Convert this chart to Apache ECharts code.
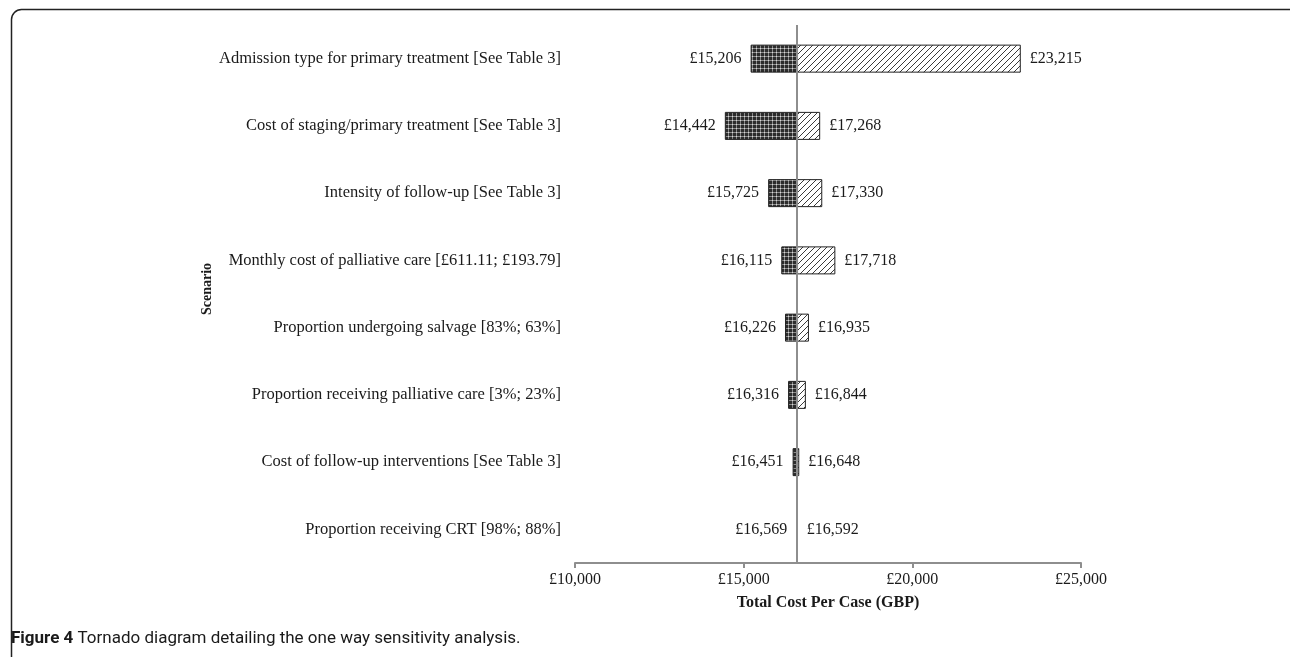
<!DOCTYPE html>
<html>
<head>
<meta charset="utf-8">
<script src="https://cdn.jsdelivr.net/npm/echarts@6/dist/echarts.min.js"></script>
<style>
html,body{margin:0;padding:0;background:#fff;}
#chart{width:1290px;height:657px;}
</style>
</head>
<body>
<div id="chart"></div>
<script>
const categories = [
  'Admission type for primary treatment [See Table 3]',
  'Cost of staging/primary treatment [See Table 3]',
  'Intensity of follow-up [See Table 3]',
  'Monthly cost of palliative care [£611.11; £193.79]',
  'Proportion undergoing salvage [83%; 63%]',
  'Proportion receiving palliative care [3%; 23%]',
  'Cost of follow-up interventions [See Table 3]',
  'Proportion receiving CRT [98%; 88%]'
];
const lowValues = [15206, 14442, 15725, 16115, 16226, 16316, 16451, 16569];
const highValues = [23215, 17268, 17330, 17718, 16935, 16844, 16648, 16592];
const baseValue = 16582;
const xTicks = [10000, 15000, 20000, 25000];

function fmt(v){ return '£' + v.toLocaleString('en-GB'); }

function makeDots(){
  const c = document.createElement('canvas'); c.width = 4; c.height = 4;
  const g = c.getContext('2d');
  g.fillStyle = '#2c2c2c'; g.fillRect(0,0,4,4);
  g.fillStyle = '#8c8c8c'; g.fillRect(0,0,4,1); g.fillRect(0,0,1,4);
  g.fillStyle = '#d8d8d8'; g.fillRect(0,0,1,1);
  return c;
}
function makeHatch(){
  const c = document.createElement('canvas'); c.width = 6; c.height = 6;
  const g = c.getContext('2d');
  g.fillStyle = '#ffffff'; g.fillRect(0,0,6,6);
  g.strokeStyle = '#3a3a3a'; g.lineWidth = 1;
  g.beginPath();
  g.moveTo(-1,7); g.lineTo(7,-1);
  g.moveTo(-4,4); g.lineTo(4,-4);
  g.moveTo(2,10); g.lineTo(10,2);
  g.stroke();
  return c;
}

const offsetData = lowValues.slice();
const lowBarData = lowValues.map(v => baseValue - v);
const highBarData = highValues.map(v => v - baseValue);

const chart = echarts.init(document.getElementById('chart'));
const serif = 'Liberation Serif';
chart.setOption({
  animation: false,
  grid: {left: 575, right: 209, top: 25, bottom: 94},
  xAxis: {
    type: 'value', min: xTicks[0], max: xTicks[xTicks.length-1], interval: 5000,
    splitLine: {show: false},
    axisLine: {show: true, lineStyle: {color: '#8e8e8e', width: 2}},
    axisTick: {show: true, length: 5, lineStyle: {color: '#8e8e8e', width: 2}},
    axisLabel: {color: '#1a1a1a', fontFamily: serif, fontSize: 16, margin: 9, formatter: v => fmt(v)},
    name: 'Total Cost Per Case (GBP)', nameLocation: 'middle', nameGap: 32,
    nameTextStyle: {color: '#1a1a1a', fontFamily: serif, fontSize: 16, fontWeight: 'bold'}
  },
  yAxis: {
    type: 'category', data: categories, inverse: true,
    axisLine: {show: false}, axisTick: {show: false},
    axisLabel: {color: '#1a1a1a', fontFamily: serif, fontSize: 16.5, margin: 14}
  },
  series: [
    {type: 'bar', stack: 's', data: offsetData, barWidth: 28,
     itemStyle: {color: 'rgba(0,0,0,0)'}, silent: true},
    {type: 'bar', stack: 's', data: lowBarData, barWidth: 28,
     itemStyle: {color: {image: makeDots(), repeat: 'repeat'}, borderColor: '#222', borderWidth: 1},
     label: {show: true, position: 'left', distance: 9, color: '#1a1a1a', fontFamily: serif, fontSize: 16,
             formatter: p => fmt(lowValues[p.dataIndex])}},
    {type: 'bar', stack: 's', data: highBarData, barWidth: 28,
     itemStyle: {color: {image: makeHatch(), repeat: 'repeat'}, borderColor: '#222', borderWidth: 1},
     label: {show: true, position: 'right', distance: 9, color: '#1a1a1a', fontFamily: serif, fontSize: 16,
             formatter: p => fmt(highValues[p.dataIndex])},
     markLine: {silent: true, symbol: 'none', label: {show: false},
                lineStyle: {color: '#8e8e8e', width: 2, type: 'solid'},
                data: [{xAxis: baseValue}]}}
  ],
  graphic: [
    {type: 'rect', left: 9, top: 7, shape: {width: 1300, height: 670, r: 10},
     style: {fill: 'none', stroke: '#222', lineWidth: 1.5}, z: -1},
    {type: 'text', x: 207, y: 289, rotation: Math.PI / 2,
     style: {text: 'Scenario', fontFamily: serif, fontSize: 14, fontWeight: 'bold', fill: '#1a1a1a',
             align: 'center', verticalAlign: 'middle'}},
    {type: 'text', left: 11, top: 630,
     style: {text: '{b|Figure 4} Tornado diagram detailing the one way sensitivity analysis.',
             rich: {b: {fontWeight: 'bold', fontFamily: 'Roboto', fontSize: 17, fill: '#1a1a1a'}},
             fontFamily: 'Roboto', fontSize: 17, fill: '#1a1a1a'}}
  ]
});
</script>
</body>
</html>
